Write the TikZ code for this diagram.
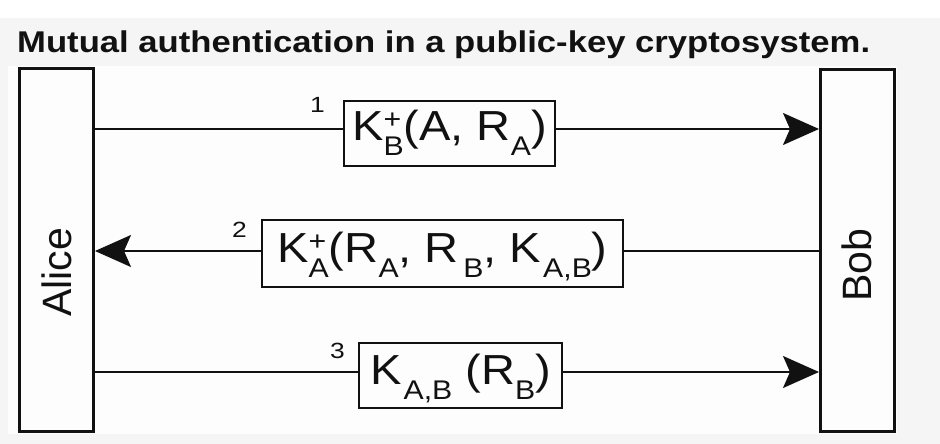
\documentclass[tikz,border=0pt]{standalone}
\usepackage{fontspec}
\setmainfont{Liberation Sans}
\usetikzlibrary{arrows.meta}
\definecolor{pagegray}{HTML}{F5F5F5}
\definecolor{panelwhite}{HTML}{FDFDFD}
\definecolor{ink}{HTML}{111111}
% subscript, and superscript stacked over subscript
\newcommand{\lo}[1]{\raisebox{-15pt}{\fontsize{27}{27}\selectfont #1}}
\newcommand{\hilo}[2]{\makebox[0pt][l]{\raisebox{12pt}{\fontsize{27}{27}\selectfont #1}}\lo{#2}}
\newcommand{\wide}[2][1.12]{\scalebox{#1}[1]{#2}}
\begin{document}
\begin{tikzpicture}[x=1pt,y=-1pt,
  party/.style={draw=ink, line width=3pt, minimum width=74pt, inner sep=0pt},
  partyname/.style={rotate=90, anchor=base, font=\fontsize{41}{41}\selectfont, text=ink},
  msg/.style={draw=ink, line width=2pt, inner sep=0pt, text=ink,
    font=\fontsize{42}{42}\selectfont},
  num/.style={anchor=base east, inner sep=0pt, text=ink, font=\fontsize{22}{22}\selectfont},
  wire/.style={draw=ink, line width=1.7pt},
  arr/.style={wire, -{Stealth[length=36pt, width=32pt, inset=7pt]}}]
\useasboundingbox (0,0) rectangle (940,444);
\fill[white] (0,0) rectangle (940,444);
\fill[pagegray] (0,18) rectangle (940,444);
\fill[panelwhite] (8,66) rectangle (897,434);

% title
\node[anchor=base west, inner sep=0pt, text=ink,
  font=\fontsize{30}{30}\selectfont\bfseries] (title) at (17,53)
  {\wide[1.155]{Mutual authentication in a public-key cryptosystem.}};

% the two parties
\node[party, minimum height=363pt] (alice) at (56.5,250) {};
\node[party, minimum height=362pt] (bob) at (857.5,250.5) {};
\node[partyname] (alicename) at (71,272.5) {Alice};
\node[partyname] (bobname) at (871,265) {Bob};

% message boxes
\node[msg, minimum width=211pt, minimum height=65pt, text height=30pt, text depth=17pt]
  (m1) at (449.5,133.5) {\wide{K\hilo{+}{B}(A, R\lo{A})}};
\node[msg, minimum width=361pt, minimum height=67pt, text height=32pt, text depth=15pt]
  (m2) at (442.5,253.5) {\wide{K\hilo{+}{A}(R\lo{A}, R\hspace{4pt}\lo{B}, K\hspace{2pt}\lo{A,B})}};
\node[msg, minimum width=203pt, minimum height=65pt, text height=32pt, text depth=15pt]
  (m3) at (460.5,375.5) {\wide{K\hspace{2pt}\lo{A,B} (R\lo{B})}};

% step numbers
\node[num] (n1) at (325,113) {\wide[1.2]{1}};
\node[num] (n2) at (247,237) {\wide[1.2]{2}};
\node[num] (n3) at (345,358) {\wide[1.2]{3}};

% message lines
\coordinate (y1) at (0,129);
\coordinate (y2) at (0,251);
\coordinate (y3) at (0,372);
\draw[wire] (alice.east |- y1) -- (m1.west |- y1);
\draw[arr] (m1.east |- y1) -- (bob.west |- y1);
\draw[wire] (bob.west |- y2) -- (m2.east |- y2);
\draw[arr] (m2.west |- y2) -- (alice.east |- y2);
\draw[wire] (alice.east |- y3) -- (m3.west |- y3);
\draw[arr] (m3.east |- y3) -- (bob.west |- y3);
\end{tikzpicture}
\end{document}
